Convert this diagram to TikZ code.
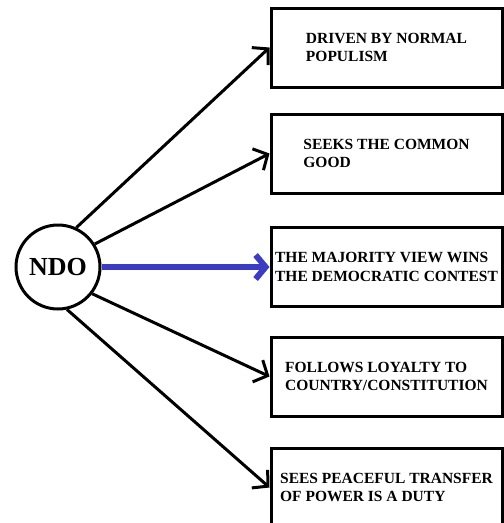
\documentclass[tikz,border=0pt]{standalone}
\usepackage{fontspec}
\setmainfont{Liberation Serif}
\usetikzlibrary{arrows.meta}
\definecolor{ndoblue}{RGB}{60,60,195}
\tikzset{
  item/.style={draw, line width=3pt, minimum width=231pt, minimum height=79pt,
    align=left, inner sep=0pt, font=\bfseries\fontsize{15.5}{18.5}\selectfont},
  hub/.style={draw, circle, line width=3pt, minimum size=84pt, inner sep=0pt,
    font=\bfseries\fontsize{26}{30}\selectfont},
  link/.style={line width=3pt, -{Straight Barb[length=11pt,width=24pt]}},
  mainlink/.style={line width=6pt, color=ndoblue, -{Straight Barb[length=10pt,width=24pt]}},
}
\begin{document}
\begin{tikzpicture}[x=1pt, y=-1pt]
        \clip (0,0) rectangle (504,523);
        \node[hub] (ndo) at (58, 267) {NDO};
        \node[item] (B1) at (386.5, 47.5) {DRIVEN BY NORMAL\\POPULISM};
        \node[item] (B2) at (386.5, 153.5) {SEEKS THE COMMON\\GOOD};
        \node[item] (B3) at (386.5, 267) {THE MAJORITY VIEW WINS\\THE DEMOCRATIC CONTEST};
        \node[item] (B4) at (386.5, 376.5) {FOLLOWS LOYALTY TO\\COUNTRY/CONSTITUTION};
        \node[item] (B5) at (386.5, 487.5) {SEES PEACEFUL TRANSFER\\OF POWER IS A DUTY};
        \path [link] (ndo.65) edge (B1.west);
        \path [link] (ndo.32) edge (B2.west);
        \path [mainlink] (ndo.east) edge (B3.west);
        \path [link] (ndo.-38) edge (B4.west);
        \path [link] (ndo.-78) edge (B5.west);
    \end{tikzpicture}
\end{document}
